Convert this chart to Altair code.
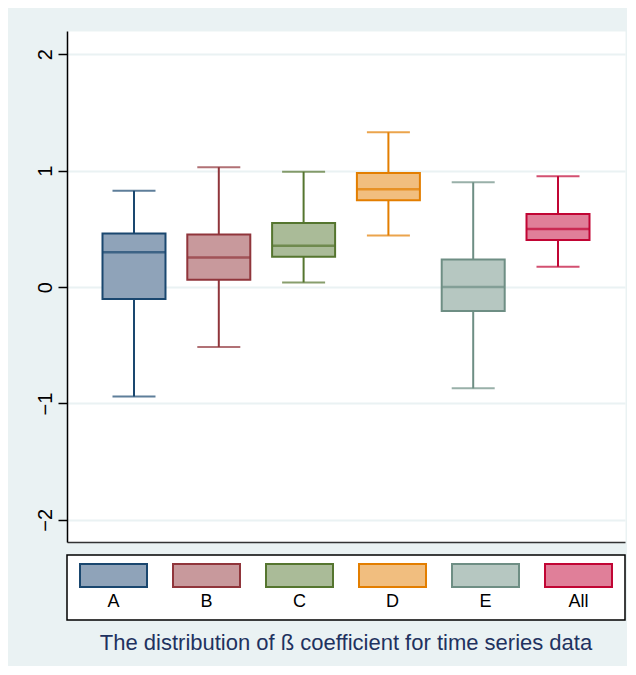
import altair as alt
import pandas as pd

cats = ["A", "B", "C", "D", "E", "All"]
lower = [-0.94, -0.515, 0.04, 0.443, -0.87, 0.175]
q1 = [-0.103, 0.063, 0.261, 0.745, -0.206, 0.404]
median = [0.30, 0.255, 0.355, 0.84, 0.0, 0.498]
q3 = [0.461, 0.452, 0.55, 0.98, 0.237, 0.627]
upper = [0.827, 1.03, 0.99, 1.33, 0.90, 0.953]

strokes = ["#1a476f", "#90353b", "#55752f", "#e37e00", "#6e8e84", "#c10534"]
fills = ["#8fa3b9", "#c8999c", "#aabb98", "#f1be7f", "#b6c7c1", "#e07f99"]

y_ticks = [-2, -1, 0, 1, 2]
caption = "The distribution of ß coefficient for time series data"

FONT = "Liberation Sans"
BG = "#eaf2f3"

df = pd.DataFrame(dict(cat=cats, lower=lower, q1=q1, median=median, q3=q3, upper=upper))
leg_df = pd.DataFrame(dict(cat=cats))

stroke_scale = alt.Scale(domain=cats, range=strokes)
fill_scale = alt.Scale(domain=cats, range=fills)

x_enc = alt.X(
    "cat:N", sort=cats,
    scale=alt.Scale(paddingInner=0, paddingOuter=0.29),
    axis=alt.Axis(title=None, labels=False, ticks=False, grid=False,
                  domain=True, domainColor="#333333", domainWidth=1.5),
)
y_scale = alt.Scale(domain=[-2.19, 2.2], nice=False, zero=False)
y_axis = alt.Axis(
    title=None, values=y_ticks, grid=True, gridColor=BG, gridWidth=2,
    domainColor="#000000", domainWidth=1.5,
    tickColor="#000000", tickWidth=1.5, tickSize=9,
    labelAngle=270, labelAlign="center", labelBaseline="alphabetic",
    labelPadding=7, labelFontSize=20, labelColor="#000000", labelFont=FONT,
)

def Y(field):
    return alt.Y(f"{field}:Q", scale=y_scale, axis=y_axis)

base = alt.Chart(df)
stroke_enc = alt.Stroke("cat:N", scale=stroke_scale, legend=None)
color_enc = alt.Color("cat:N", scale=stroke_scale, legend=None)

whisk_hi = base.mark_rule(strokeWidth=2).encode(x=x_enc, y=Y("q3"), y2="upper:Q", stroke=stroke_enc)
whisk_lo = base.mark_rule(strokeWidth=2).encode(x=x_enc, y=Y("lower"), y2="q1:Q", stroke=stroke_enc)
box = base.mark_bar(size=63, strokeWidth=2).encode(
    x=x_enc, y=Y("q1"), y2="q3:Q",
    fill=alt.Fill("cat:N", scale=fill_scale, legend=None), stroke=stroke_enc)
med = base.mark_tick(size=63, thickness=2.5).encode(x=x_enc, y=Y("median"), color=color_enc)
cap_hi = base.mark_tick(size=43, thickness=2).encode(x=x_enc, y=Y("upper"), color=color_enc)
cap_lo = base.mark_tick(size=43, thickness=2).encode(x=x_enc, y=Y("lower"), color=color_enc)

main = alt.layer(whisk_hi, whisk_lo, box, med, cap_hi, cap_lo).properties(
    width=558, height=511,
    view=alt.ViewBackground(fill="white", stroke="transparent"),
)

lx = alt.X("cat:N", sort=cats, scale=alt.Scale(paddingInner=0, paddingOuter=0), axis=None)
lbase = alt.Chart(leg_df)
swatch = lbase.mark_bar(size=67, strokeWidth=2).encode(
    x=lx, y=alt.value(9), y2=alt.value(32),
    fill=alt.Fill("cat:N", scale=fill_scale, legend=None), stroke=stroke_enc)
labels = lbase.mark_text(fontSize=18, font=FONT, baseline="middle", color="#000000").encode(
    x=lx, y=alt.value(47), text="cat:N")

legend = alt.layer(swatch, labels).properties(
    width=558, height=65,
    view=alt.ViewBackground(fill="white", stroke="#000000", strokeWidth=1.5),
    title=alt.TitleParams(text=caption, orient="bottom", anchor="middle", fontSize=22,
                          fontWeight="normal", color="#1f3260", font=FONT, offset=13),
)

chart = alt.vconcat(main, legend, spacing=11).properties(
    background=BG,
    padding={"left": 26, "top": 22, "right": 1, "bottom": 11},
).configure_view(fill="white")

chart.save("out.html", embed_options={"renderer": "svg", "actions": False})
